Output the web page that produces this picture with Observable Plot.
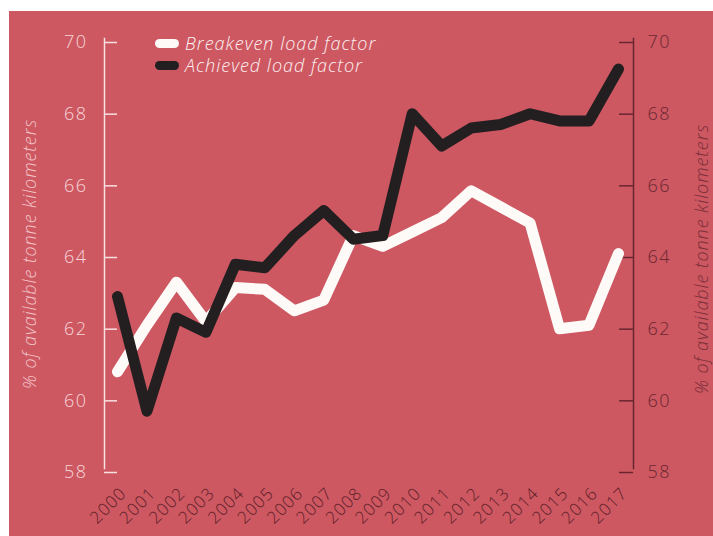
<!DOCTYPE html>
<html>
<head>
<meta charset="utf-8">
<script src="https://cdn.jsdelivr.net/npm/d3@7"></script>
<script src="https://cdn.jsdelivr.net/npm/@observablehq/plot@0.6"></script>
<style>
  html, body { margin: 0; padding: 0; background: #ffffff; }
  #wrap { position: relative; width: 713px; height: 536px; overflow: hidden;
          font-family: "Open Sans", Lato, sans-serif; font-weight: 300; }
  #bg { position: absolute; left: 9px; top: 11px; right: 0; bottom: 0; background: #cd5862; }
  #chart { position: absolute; left: 0; top: 0; }
  #legend { position: absolute; left: 155px; top: 32px; letter-spacing: 1px;
            font-style: italic; font-size: 18px; color: #fdf1f1; }
  .item { display: flex; align-items: center; height: 22px; white-space: nowrap; }
  .sw { width: 24px; height: 9px; border-radius: 5px; margin-right: 6px; }
  .ytitle { position: absolute; white-space: nowrap; font-style: italic; font-size: 18px; letter-spacing: 0.9px;
            transform: translate(-50%, -50%) rotate(-90deg); }
  #chart g[aria-label="y-axis tick label"] text { letter-spacing: 1.5px; }
  #chart g[aria-label="x-axis tick label"] text { letter-spacing: 1px; }
</style>
</head>
<body>
<div id="wrap">
  <div id="bg"></div>
  <div id="chart"></div>
  <div id="legend"></div>
  <div id="ytl" class="ytitle" style="left:29px; top:254px; color:#f2c3c6;"></div>
  <div id="ytr" class="ytitle" style="left:701px; top:259px; color:#7a2f38;"></div>
</div>
<script>
const years = [2000, 2001, 2002, 2003, 2004, 2005, 2006, 2007, 2008, 2009, 2010, 2011, 2012, 2013, 2014, 2015, 2016, 2017];
const breakeven = [60.7, 62.0, 63.2, 62.1, 63.05, 63.0, 62.4, 62.7, 64.5, 64.2, 64.6, 65.0, 65.75, 65.3, 64.85, 61.9, 62.0, 64.0];
const achieved  = [62.8, 59.6, 62.2, 61.8, 63.7, 63.6, 64.5, 65.2, 64.4, 64.5, 67.9, 67.0, 67.5, 67.6, 67.9, 67.7, 67.7, 69.15];
const yTicks = [58, 60, 62, 64, 66, 68, 70];
const seriesNames = ["Breakeven load factor", "Achieved load factor"];
const seriesColors = ["#fdfaf7", "#231f20"];
const yTitle = "% of available tonne kilometers";

const font = "'Open Sans', Lato, sans-serif";

const chart = Plot.plot({
  width: 713,
  height: 536,
  marginLeft: 117,
  marginRight: 95,
  marginTop: 38,
  marginBottom: 68,
  style: { background: "transparent", fontFamily: font, fontWeight: 300, overflow: "visible" },
  x: { domain: [2000, 2017] },
  y: { domain: [58, 70] },
  marks: [
    Plot.frame({ anchor: "left", dx: -13, stroke: "#f7e0e0", strokeWidth: 1.5 }),
    Plot.frame({ anchor: "right", dx: 15, stroke: "#6a2630", strokeWidth: 1.5 }),
    Plot.axisY({ anchor: "left", ticks: yTicks, tickSize: 13, tickPadding: 17, tickFormat: d => String(d),
                 fontSize: 18, fill: "#f7d6d8", stroke: "#f7e0e0", strokeWidth: 1.5, label: null, dy: 4 }),
    Plot.axisY({ anchor: "right", ticks: yTicks, tickSize: 14, tickPadding: 15, tickFormat: d => String(d),
                 fontSize: 18, fill: "#6b2731", stroke: "#6a2630", strokeWidth: 1.5, label: null, dy: 4 }),
    Plot.axisX({ ticks: years, tickFormat: d => String(d), tickRotate: -45, tickSize: 0, tickPadding: 22,
                 dx: 6, fontSize: 17, fill: "#5c1e27", label: null }),
    Plot.line(years, { x: years, y: breakeven, stroke: seriesColors[0], strokeWidth: 11,
                       strokeLinejoin: "round", strokeLinecap: "round" }),
    Plot.line(years, { x: years, y: achieved, stroke: seriesColors[1], strokeWidth: 11,
                       strokeLinejoin: "round", strokeLinecap: "round" })
  ]
});
document.getElementById("chart").appendChild(chart);

document.getElementById("ytl").textContent = yTitle;
document.getElementById("ytr").textContent = yTitle;

const legend = document.getElementById("legend");
seriesNames.forEach((name, i) => {
  const row = document.createElement("div");
  row.className = "item";
  const sw = document.createElement("span");
  sw.className = "sw";
  sw.style.background = seriesColors[i];
  const t = document.createElement("span");
  t.textContent = name;
  row.appendChild(sw);
  row.appendChild(t);
  legend.appendChild(row);
});
</script>
</body>
</html>
